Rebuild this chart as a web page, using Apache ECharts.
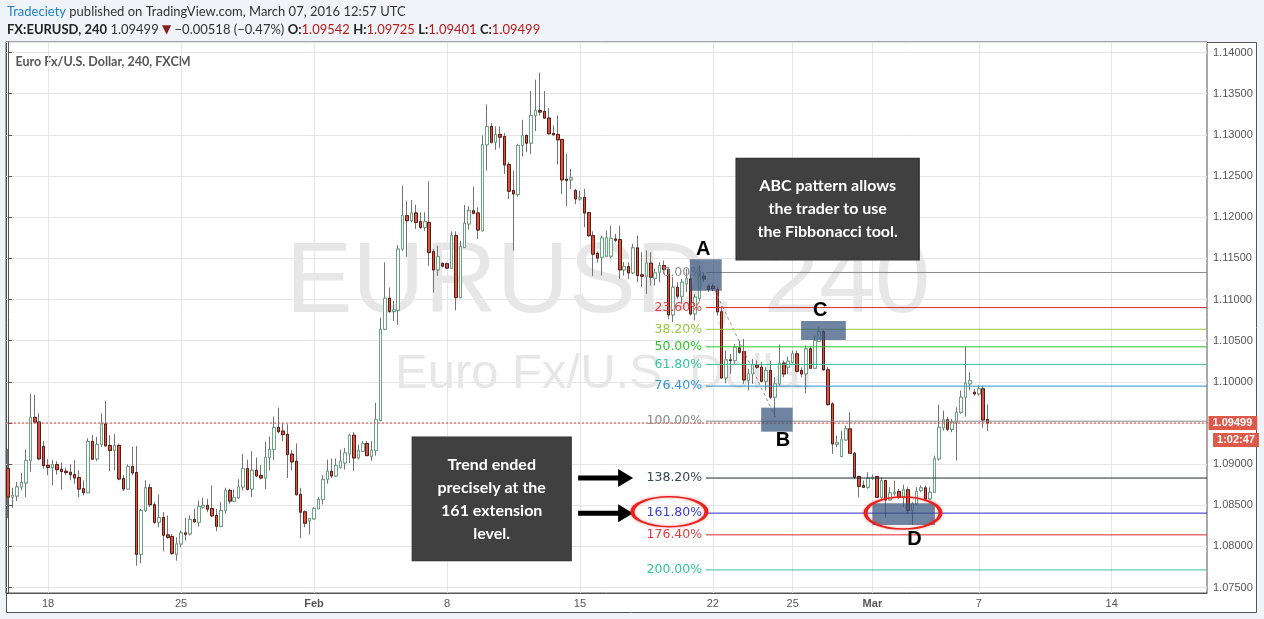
<!DOCTYPE html>
<html><head><meta charset="utf-8">
<script src="https://cdn.jsdelivr.net/npm/echarts@6/dist/echarts.min.js"></script>
<style>html,body{margin:0;padding:0;background:#f0f3f7;}#c{width:1264px;height:619px;}</style>
</head><body><div id="c"></div>
<script>
// ---- candle values (EURUSD 240) ----
const open = [
1.08945,1.08599,1.08612,1.08722,1.08771,1.09043,1.09568,1.09511,1.09214,1.08986,
1.08958,1.08994,1.08937,1.08913,1.08901,1.08872,1.08836,1.08701,1.08652,1.09275,
1.09064,1.09239,1.09487,1.09226,1.09165,1.09226,1.08823,1.08697,1.08970,1.08897,
1.07904,1.08437,1.08713,1.08506,1.08294,1.08351,1.08140,1.08119,1.07904,1.08030,
1.08164,1.08152,1.08327,1.08294,1.08478,1.08498,1.08461,1.08376,1.08245,1.08437,
1.08681,1.08551,1.08591,1.08722,1.08945,1.08697,1.08925,1.08860,1.08832,1.09080,
1.09178,1.09446,1.09401,1.09361,1.09121,1.09035,1.08632,1.08420,1.08311,1.08335,
1.08457,1.08571,1.08811,1.08913,1.08856,1.08961,1.09014,1.09123,1.09351,1.09075,
1.09156,1.09250,1.09095,1.09164,1.09529,1.10638,1.11015,1.10853,1.10869,1.11612,
1.12018,1.11957,1.12051,1.11945,1.11876,1.11937,1.11580,1.11360,1.11438,1.11434,
1.11381,1.11775,1.11023,1.11632,1.11917,1.12079,1.12051,1.11835,1.12879,1.13102,
1.12911,1.13005,1.12980,1.12639,1.12323,1.12274,1.12871,1.12993,1.12899,1.13236,
1.13297,1.13285,1.13204,1.13017,1.13005,1.12944,1.12461,1.12453,1.12323,1.12221,
1.12241,1.12055,1.11775,1.11559,1.11513,1.11526,1.11526,1.11736,1.11728,1.11360,
1.11400,1.11323,1.11627,1.11299,1.11283,1.11441,1.11258,1.11331,1.11412,1.11364,
1.10813,1.11149,1.11040,1.11190,1.11250,1.10825,1.11016,1.11283,1.11161,1.11161,
1.11121,1.10850,1.10047,1.10266,1.10258,1.10412,1.10367,1.10015,1.10096,1.10205,
1.10177,1.10007,1.10136,1.09813,1.09975,1.10226,1.10177,1.10238,1.10339,1.10136,
1.10096,1.10400,1.10165,1.10493,1.10610,1.10145,1.09731,1.09240,1.09092,1.09294,
1.09428,1.09132,1.08849,1.08739,1.08719,1.08828,1.08849,1.08597,1.08800,1.08565,
1.08642,1.08666,1.08597,1.08687,1.08435,1.08516,1.08678,1.08711,1.08577,1.08658,
1.09063,1.09440,1.09537,1.09424,1.09509,1.09630,1.09813,1.09975,1.09873,1.09853,
1.09914,1.09542];
const close = [
1.08599,1.08620,1.08722,1.08775,1.09043,1.09568,1.09511,1.09064,1.08982,1.08958,
1.08994,1.08933,1.08909,1.08897,1.08872,1.08832,1.08697,1.08652,1.09275,1.09060,
1.09239,1.09487,1.09222,1.09165,1.09226,1.08819,1.08697,1.08970,1.08893,1.07904,
1.08437,1.08713,1.08506,1.08294,1.08351,1.08136,1.08111,1.07916,1.08030,1.08164,
1.08148,1.08327,1.08298,1.08486,1.08498,1.08453,1.08372,1.08245,1.08437,1.08681,
1.08551,1.08591,1.08722,1.08945,1.08693,1.08925,1.08856,1.08832,1.09080,1.09178,
1.09446,1.09393,1.09361,1.09116,1.09027,1.08628,1.08416,1.08282,1.08339,1.08461,
1.08571,1.08811,1.08913,1.08856,1.08982,1.09034,1.09136,1.09351,1.09075,1.09164,
1.09250,1.09103,1.09168,1.09541,1.10638,1.11015,1.10853,1.10873,1.11612,1.12018,
1.11957,1.12051,1.11937,1.11876,1.11945,1.11572,1.11360,1.11519,1.11405,1.11381,
1.11775,1.11023,1.11641,1.11925,1.12079,1.12047,1.11844,1.12879,1.13102,1.12911,
1.13005,1.12972,1.12635,1.12315,1.12282,1.12871,1.12993,1.12899,1.13236,1.13297,
1.13277,1.13204,1.13013,1.13001,1.12940,1.12453,1.12448,1.12477,1.12221,1.12237,
1.12051,1.11775,1.11551,1.11503,1.11748,1.11748,1.11744,1.11720,1.11360,1.11400,
1.11323,1.11627,1.11291,1.11283,1.11441,1.11271,1.11323,1.11412,1.11364,1.10813,
1.11149,1.11040,1.11210,1.11250,1.10825,1.11028,1.11279,1.11250,1.11121,1.11129,
1.10850,1.10047,1.10266,1.10258,1.10420,1.10359,1.10023,1.10096,1.10205,1.10177,
1.10007,1.10136,1.09813,1.09975,1.10226,1.10096,1.10250,1.10339,1.10128,1.10096,
1.10400,1.10165,1.10501,1.10610,1.10145,1.09723,1.09245,1.09258,1.09294,1.09428,
1.09132,1.08840,1.08731,1.08719,1.08828,1.08840,1.08597,1.08800,1.08565,1.08650,
1.08658,1.08597,1.08687,1.08435,1.08516,1.08666,1.08711,1.08577,1.08658,1.09063,
1.09448,1.09537,1.09424,1.09509,1.09630,1.09813,1.09983,1.10015,1.09853,1.09914,
1.09537,1.09499];
const low = [
1.08343,1.08469,1.08551,1.08681,1.08599,1.08905,1.09495,1.09047,1.08945,1.08864,
1.08742,1.08872,1.08689,1.08864,1.08803,1.08762,1.08599,1.08620,1.08652,1.09047,
1.09035,1.09210,1.09210,1.08913,1.08925,1.08803,1.08673,1.08697,1.08864,1.07765,
1.07794,1.08416,1.08478,1.08274,1.08233,1.07940,1.08091,1.07899,1.07826,1.07989,
1.08070,1.08132,1.08290,1.08241,1.08457,1.08416,1.08355,1.08184,1.08233,1.08396,
1.08518,1.08538,1.08579,1.08681,1.08681,1.08599,1.08844,1.08815,1.08693,1.08925,
1.09047,1.09373,1.09279,1.08832,1.08925,1.08620,1.08103,1.08233,1.08144,1.08323,
1.08457,1.08510,1.08762,1.08832,1.08844,1.08945,1.08932,1.09014,1.08920,1.09054,
1.09148,1.09095,1.09042,1.09103,1.09521,1.10626,1.10841,1.10739,1.10691,1.11592,
1.11519,1.11937,1.11856,1.11856,1.11835,1.11409,1.11084,1.11287,1.11389,1.11369,
1.11369,1.10869,1.11015,1.11624,1.11848,1.12038,1.11734,1.11827,1.12566,1.12891,
1.12818,1.12842,1.12526,1.12221,1.11592,1.12250,1.12737,1.12790,1.12769,1.13045,
1.13236,1.13196,1.13005,1.12993,1.12639,1.12282,1.12132,1.12343,1.12160,1.12201,
1.11876,1.11762,1.11287,1.11450,1.11291,1.11513,1.11501,1.11696,1.11250,1.11291,
1.11250,1.11311,1.11210,1.11149,1.11068,1.11169,1.11169,1.11210,1.11311,1.10764,
1.10724,1.11007,1.10947,1.11089,1.10805,1.10744,1.10975,1.11210,1.11089,1.11100,
1.10805,1.10035,1.09983,1.10096,1.10218,1.10339,1.09975,1.09894,1.09975,1.10157,
1.09995,1.09894,1.09792,1.09570,1.09954,1.10055,1.10096,1.10218,1.10116,1.10055,
1.09861,1.10157,1.10157,1.10481,1.10136,1.09711,1.09124,1.09205,1.09083,1.09286,
1.09124,1.08820,1.08597,1.08711,1.08699,1.08808,1.08589,1.08577,1.08346,1.08557,
1.08617,1.08577,1.08476,1.08395,1.08261,1.08496,1.08658,1.08565,1.08565,1.08650,
1.09043,1.09408,1.09399,1.09387,1.09043,1.09610,1.09577,1.09894,1.09833,1.09833,
1.09440,1.09401];
const high = [
1.09182,1.08713,1.08783,1.08893,1.09178,1.09853,1.09841,1.09617,1.09279,1.09060,
1.09047,1.09035,1.09019,1.08958,1.08998,1.09047,1.08925,1.08803,1.09312,1.09353,
1.09332,1.09617,1.09768,1.09353,1.09365,1.09251,1.08864,1.08998,1.09210,1.09218,
1.08457,1.08803,1.08762,1.08538,1.08628,1.08416,1.08376,1.08152,1.08111,1.08193,
1.08347,1.08376,1.08457,1.08559,1.08591,1.08579,1.08742,1.08457,1.08538,1.08713,
1.08701,1.08693,1.08815,1.09121,1.09055,1.09157,1.09080,1.08986,1.09271,1.09332,
1.09576,1.09686,1.09495,1.09483,1.09169,1.09251,1.08713,1.08437,1.08343,1.08478,
1.08599,1.08864,1.09055,1.09068,1.09068,1.09176,1.09197,1.09367,1.09391,1.09237,
1.09278,1.09278,1.09278,1.09745,1.10780,1.11450,1.11145,1.10983,1.11661,1.12384,
1.12201,1.12209,1.12152,1.12059,1.12059,1.12436,1.11612,1.11653,1.11450,1.11450,
1.11827,1.11827,1.11714,1.12148,1.12132,1.12371,1.12120,1.12993,1.13370,1.13143,
1.13102,1.13102,1.13021,1.12668,1.12566,1.12891,1.13183,1.13005,1.13533,1.13671,
1.13756,1.13533,1.13325,1.13114,1.13236,1.12952,1.12769,1.12587,1.12343,1.12323,
1.12343,1.12059,1.11827,1.11584,1.11777,1.11837,1.11898,1.11797,1.11898,1.11453,
1.11453,1.11676,1.11777,1.11574,1.11595,1.11574,1.11372,1.11453,1.11473,1.11392,
1.11271,1.11210,1.11250,1.11372,1.11311,1.11068,1.11412,1.11331,1.11190,1.11190,
1.11149,1.10914,1.10380,1.10339,1.10460,1.10501,1.10521,1.10157,1.10278,1.10258,
1.10238,1.10177,1.10258,1.10055,1.10452,1.10258,1.10307,1.10380,1.10380,1.10177,
1.10440,1.10428,1.10562,1.10663,1.10630,1.10177,1.09752,1.09347,1.09408,1.09468,
1.09630,1.09144,1.08861,1.08800,1.08901,1.08873,1.08857,1.08840,1.08808,1.08719,
1.08800,1.08699,1.08751,1.08719,1.08537,1.08719,1.08739,1.08739,1.08719,1.09104,
1.09723,1.09650,1.09570,1.09549,1.09691,1.09894,1.10428,1.10116,1.09914,1.09955,
1.09955,1.09725];

// ---- axis structure ----
const categoryCount = 271;           // 4h bars incl. empty future space
const firstBarUTC = [2016, 0, 14, 14];
const dayLabels = {
  '2016-01-18':'18','2016-01-25':'25','2016-02-01':'Feb','2016-02-08':'8','2016-02-15':'15',
  '2016-02-22':'22','2016-02-25':'25','2016-03-01':'Mar','2016-03-07':'7','2016-03-14':'14'
};
const monthLabels = ['Feb','Mar'];

// ---- fibonacci tool ----
const fibA = 1.11328, fibB = 1.09521;
const fibRatios = [0, 0.236, 0.382, 0.5, 0.618, 0.764, 1, 1.382, 1.618, 1.764, 2];
const fibTexts  = ['0.00%','23.60%','38.20%','50.00%','61.80%','76.40%','100.00%','138.20%','161.80%','176.40%','200.00%'];
const fibColors = ['#8a8a8a','#dd2a2a','#96c83c','#2ec52e','#33c39a','#2b8fd6','#8a8a8a','#1f2b2f','#2a2ad2','#dd2a2a','#33c39a'];
const fibLabelColors = ['#8a8a8a','#e04040','#96c83c','#2ec52e','#33c39a','#3596d8','#8a8a8a','#37474f','#3c3cd6','#e04040','#33c39a'];
const fibStartIdx = 157.6;

const lastPrice = 1.09499;
const timerText = '1:02:47';

// ---- drawings (bar index, price) ----
const blueBoxes = [
  [[153.8, 1.11488], [161.0, 1.11107]],   // A
  [[169.9, 1.09686], [177.0, 1.09394]],   // B
  [[178.9, 1.10739], [189.0, 1.10508]],   // C
  [[195.0, 1.08524], [209.1, 1.08261]]    // D
];
const letters = [['A',156.8,1.11613],['B',174.8,1.09287],['C',183.2,1.10872],['D',204.5,1.08082]];
const abLine = [[159.4, 1.11115], [173.4, 1.09536]];
const noteABC = {idx:184.9, price:1.12099, w:183, h:102, text:'ABC pattern allows\nthe trader to use\nthe Fibbonacci tool.'};
const noteTrend = {idx:109.1, price:1.08577, w:159, h:124, text:'Trend ended\nprecisely at the\n161 extension\nlevel.'};
const arrowIdx = 134.8;
const ellipseFib = {idx:149.2, price:1.08422, w:74, h:30};
const ellipseD = {idx:201.9, price:1.08406, w:75, h:32};

// ---- build ----
function pad(n){return n<10?'0'+n:''+n;}
const categories = [];
let t = Date.UTC(firstBarUTC[0], firstBarUTC[1], firstBarUTC[2], firstBarUTC[3]);
while (categories.length < categoryCount) {
  const d = new Date(t), wd = d.getUTCDay(), h = d.getUTCHours();
  const closed = wd === 6 || (wd === 5 && h >= 22) || (wd === 0 && h < 22);
  if (!closed) categories.push(d.getUTCFullYear()+'-'+pad(d.getUTCMonth()+1)+'-'+pad(d.getUTCDate())+' '+pad(h)+':00');
  t += 4*3600*1000;
}
const labelIdx = new Set();
categories.forEach((c,i)=>{ const day=c.slice(0,10); if (dayLabels[day] && c.slice(11)==='02:00') labelIdx.add(i); });
const labelIdxArr = Array.from(labelIdx);

const candleData = open.map((o,i)=>[o, close[i], low[i], high[i]]);
const bodyData = open.map((o,i)=>[o, close[i], Math.min(o,close[i]), Math.max(o,close[i])]);
const fibLevel = r => fibA - r*(fibA-fibB);
const xEnd = categoryCount - 0.5;

function segment(name, p0, p1, color, type, z, startLabel, endLabel) {
  return {
    type:'line', name:name, xAxisIndex:1, silent:true, z:z, animation:false, clip:false,
    lineStyle:{color:color, width:1, type:type},
    itemStyle:{color:color},
    symbol:'rect', symbolSize:1, showSymbol:true,
    emphasis:{disabled:true},
    data:[
      startLabel ? {value:p0, label:startLabel} : {value:p0, symbol:'none'},
      endLabel ? {value:p1, label:endLabel} : {value:p1, symbol:'none'}
    ]
  };
}

const fibSeries = fibRatios.map((r,i)=>{
  const v = fibLevel(r);
  return segment('fib'+i, [fibStartIdx, v], [xEnd, v], fibColors[i], 'solid', 4,
    {show:true, position:'left', distance:4, formatter:fibTexts[i], color:fibLabelColors[i], fontSize:12.5, fontFamily:'DejaVu Sans'}, null);
});
const priceLine = segment('last', [-0.5, lastPrice], [xEnd, lastPrice], '#e53935', [2,2], 4, null,
  {show:true, position:'right', distance:1, formatter:lastPrice.toFixed(5), backgroundColor:'#dd5a4a', color:'#fff', fontWeight:'bold', fontSize:11, fontFamily:'Liberation Sans', padding:[2,5,1,4]});
const abSeries = segment('ab', abLine[0], abLine[1], '#8f8f8f', [3,3], 4, null, null);

const arrowPath = 'path://M0,6.5L40,6.5L40,0L55,9L40,18L40,11.5L0,11.5Z';
const ellPath = (w,h)=>'path://M0,'+(h/2)+'A'+(w/2)+','+(h/2)+',0,1,1,'+w+','+(h/2)+'A'+(w/2)+','+(h/2)+',0,1,1,0,'+(h/2)+'Z';
const noteLabel = txt => ({show:true, position:'inside', formatter:txt, color:'#fff', fontSize:16, fontWeight:'bold', fontFamily:'Lato', lineHeight:23, align:'center'});

const chart = echarts.init(document.getElementById('c'), null, {renderer:'canvas'});
chart.setOption({
  animation:false,
  backgroundColor:'#f0f3f7',
  grid:{left:6, right:57, top:42, bottom:26, show:true, borderColor:'#555', borderWidth:1, backgroundColor:'transparent', outerBoundsMode:'none', containLabel:false},
  xAxis:[{
    type:'category', data:categories, boundaryGap:true,
    axisLine:{lineStyle:{color:'#555'}},
    axisTick:{alignWithLabel:true, interval:(i)=>labelIdx.has(i), length:3, lineStyle:{color:'#555'}},
    axisLabel:{interval:(i)=>labelIdx.has(i), margin:5, color:'#555', fontSize:11, fontFamily:'Liberation Sans',
      formatter:(v)=>{ const s = dayLabels[v.slice(0,10)] || ''; return monthLabels.indexOf(s)>=0 ? '{b|'+s+'}' : s; },
      rich:{b:{fontWeight:'bold', color:'#555', fontSize:11, fontFamily:'Liberation Sans'}}},
    splitLine:{show:false}
  },{
    type:'value', min:-0.5, max:xEnd, show:false
  }],
  yAxis:{
    type:'value', position:'right', min:1.07434, max:1.14128, splitNumber:13,
    axisLine:{show:true, lineStyle:{color:'#555'}},
    axisTick:{show:true, length:4, lineStyle:{color:'#555'}},
    axisLabel:{formatter:v=>v.toFixed(5), color:'#555', fontSize:11, margin:6, fontFamily:'Liberation Sans', showMinLabel:false, showMaxLabel:false},
    splitLine:{show:true, lineStyle:{color:'#e6e6e6', width:1}}
  },
  graphic:[
    {type:'rect', z:-10, silent:true, shape:{x:6.5, y:42.5, width:1250, height:570}, style:{fill:'#ffffff', stroke:'#555', lineWidth:1}},
    {type:'text', z:-5, silent:true, x:608, y:284, style:{text:'EURUSD, 240', fill:'#e7e7e7', font:'100px "Liberation Sans"', align:'center', verticalAlign:'middle'}},
    {type:'text', z:-5, silent:true, x:606, y:374, style:{text:'Euro Fx/U.S. Dollar', fill:'#e7e7e7', font:'49px "Liberation Sans"', align:'center', verticalAlign:'middle'}},
    {type:'text', silent:true, x:7, y:12, style:{text:'{a|Tradeciety}{n| published on TradingView.com, March 07, 2016 12:57 UTC}', verticalAlign:'middle',
      rich:{a:{fill:'#1e84c4', fontSize:13, fontFamily:'Lato'}, n:{fill:'#333', fontSize:13, fontFamily:'Lato'}}}},
    {type:'text', silent:true, x:7, y:30, style:{text:'{b|FX:EURUSD, 240} {n|1.09499 }{t|▼}{n| −0.00518 (−0.47%) }{b|O:}{r|1.09542} {b|H:}{r|1.09725} {b|L:}{r|1.09401} {b|C:}{r|1.09499}', verticalAlign:'middle',
      rich:{b:{fill:'#222', fontSize:13, fontWeight:'bold', fontFamily:'Lato'}, n:{fill:'#333', fontSize:13, fontFamily:'Lato'}, t:{fill:'#8b1a1a', fontSize:12, fontFamily:'DejaVu Sans'}, r:{fill:'#b31b1b', fontSize:13, fontFamily:'Lato'}}}},
    {type:'text', silent:true, x:15.5, y:62, style:{text:'Euro Fx/U.S. Dollar, 240, FXCM', fill:'#555', font:'bold 12.5px Lato', verticalAlign:'middle'}}
  ],
  series:[
    {type:'candlestick', name:'wick', data:candleData, barWidth:3, silent:true, z:2,
      itemStyle:{color:'#737375', color0:'#737375', borderColor:'#737375', borderColor0:'#737375', borderWidth:1}},
    {type:'candlestick', name:'body', data:bodyData, barWidth:3, silent:true, z:3,
      itemStyle:{color:'#ffffff', color0:'#d75442', borderColor:'#6ba583', borderColor0:'#5b1a13', borderWidth:1}},
    {type:'line', name:'grid', xAxisIndex:1, data:[], silent:true,
      markLine:{z:1, silent:true, precision:5, symbol:['none','none'], label:{show:false}, lineStyle:{color:'#e6e6e6', width:1, type:'solid'},
        data:labelIdxArr.map(i=>({xAxis:i}))}},
    priceLine, abSeries
  ].concat(fibSeries).concat([
    {type:'line', name:'drawings', xAxisIndex:1, data:[], silent:true,
      markArea:{z:5, silent:true, itemStyle:{color:'rgba(55,85,125,0.72)'}, label:{show:false},
        data: blueBoxes.map(b=>[{coord:b[0]},{coord:b[1]}])},
      markPoint:{z:6, silent:true, precision:5,
        data:[
          {coord:[noteABC.idx, noteABC.price], symbol:'rect', symbolSize:[noteABC.w, noteABC.h], itemStyle:{color:'#404040', borderColor:'#2e2e2e', borderWidth:1}, label:noteLabel(noteABC.text)},
          {coord:[noteTrend.idx, noteTrend.price], symbol:'rect', symbolSize:[noteTrend.w, noteTrend.h], itemStyle:{color:'#404040', borderColor:'#2e2e2e', borderWidth:1}, label:noteLabel(noteTrend.text)},
          {coord:[arrowIdx, fibLevel(1.382)], symbol:arrowPath, symbolSize:[55,18], itemStyle:{color:'#000'}, label:{show:false}},
          {coord:[arrowIdx, fibLevel(1.618)], symbol:arrowPath, symbolSize:[55,18], itemStyle:{color:'#000'}, label:{show:false}},
          {coord:[ellipseFib.idx, ellipseFib.price], symbol:ellPath(ellipseFib.w, ellipseFib.h), symbolSize:[ellipseFib.w, ellipseFib.h], itemStyle:{color:'rgba(0,0,0,0)', borderColor:'#e8211d', borderWidth:2.5, shadowBlur:3, shadowColor:'rgba(230,30,30,0.5)'}, label:{show:false}},
          {coord:[ellipseD.idx, ellipseD.price], symbol:ellPath(ellipseD.w, ellipseD.h), symbolSize:[ellipseD.w, ellipseD.h], itemStyle:{color:'rgba(0,0,0,0)', borderColor:'#e8211d', borderWidth:2.5, shadowBlur:3, shadowColor:'rgba(230,30,30,0.5)'}, label:{show:false}},
          {coord:[xEnd, lastPrice], symbol:'rect', symbolSize:[1,1], itemStyle:{color:'rgba(0,0,0,0)'},
           label:{show:true, position:'inside', offset:[29,17], formatter:timerText, backgroundColor:'#dd5a4a', color:'#fff', fontWeight:'bold', fontSize:11, fontFamily:'Liberation Sans', padding:[2,4,1,4]}}
        ].concat(letters.map(l=>({coord:[l[1], l[2]], symbol:'rect', symbolSize:[16,16], itemStyle:{color:'rgba(0,0,0,0)'},
           label:{show:true, position:'inside', formatter:l[0], color:'#000', fontSize:20, fontWeight:'bold', fontFamily:'Liberation Sans'}})))
      }}
  ])
});
</script></body></html>
